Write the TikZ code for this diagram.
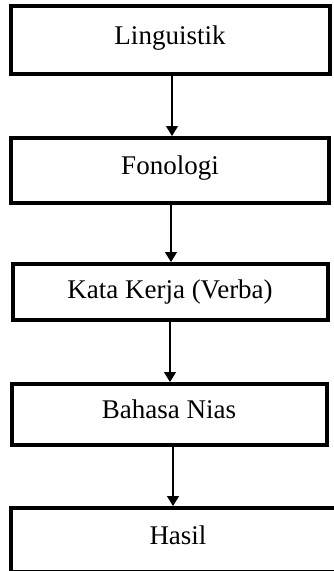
\documentclass[tikz,border=0pt]{standalone}
\usepackage{fontspec}
\setmainfont{Liberation Serif}
\usetikzlibrary{arrows.meta}
\usetikzlibrary{positioning}

\begin{document}
\begin{tikzpicture}[x=1pt,y=-1pt]

    \useasboundingbox (0,0) rectangle (334,571);
    \clip (0,0) rectangle (334,571);

    \tikzset{stage/.style={draw,line width=4pt,inner sep=0pt,text height=18pt,text depth=10pt,font=\fontsize{27}{32}\selectfont}}
    \tikzset{flow/.style={-{Triangle[length=10pt,width=12pt]},line width=1.3pt}}

    % stages of the study
    \node[stage,minimum width=319pt,minimum height=68pt] (ling) at (170,40) {Linguistik};
    \node[stage,minimum width=318pt,minimum height=65pt] (fono) at (170,170.5) {Fonologi};
    \node[stage,minimum width=315pt,minimum height=56pt,text depth=6pt] (verba) at (170,292) {Kata Kerja (Verba)};
    \node[stage,minimum width=315pt,minimum height=61pt] (nias) at (169,414.5) {Bahasa Nias};
    \node[stage,minimum width=334pt,minimum height=64pt] (hasil) at (178,540) {Hasil};

    % flow between stages
    \draw[flow] ([xshift=2pt]ling.south) -- ([xshift=2pt]ling.south |- fono.north);
    \draw[flow] ([xshift=1pt]fono.south) -- ([xshift=1pt]fono.south |- verba.north);
    \draw[flow] (verba.south) -- (verba.south |- nias.north);
    \draw[flow] ([xshift=4pt]nias.south) -- ([xshift=4pt]nias.south |- hasil.north);

\end{tikzpicture}
\end{document}
